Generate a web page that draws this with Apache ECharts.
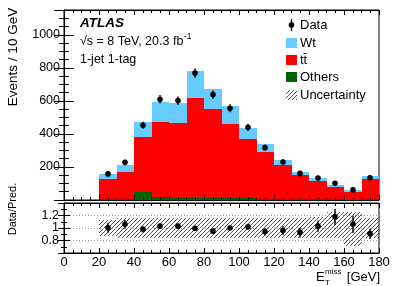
<!DOCTYPE html>
<html><head><meta charset="utf-8">
<script src="https://cdn.jsdelivr.net/npm/echarts@6/dist/echarts.min.js"></script>
<style>html,body{margin:0;padding:0;background:#fff}#c{width:399px;height:286px}</style>
</head><body><div id="c"></div>
<script>
// ---- data ----
const binLo = [20,30,40,50,60,70,80,90,100,110,120,130,140,150,160,170];
const binWidth = 10;
const others = [4,6,46,16,15,14,13,12,10,8,7,6,5,4,3,4];
const ttbar  = [121,164,334,457,454,606,536,449,357,285,203,144,108,75,47,125];
const wt     = [35,44,93,119,119,158,123,105,67,46,32,22,18,10,9,18];
const dataVals = [158,228,452,610,602,768,638,555,440,317,230,161,133,101,61,135];
const dataErr  = [13,15,21,25,25,28,25,24,21,18,15,13,12,10,8,12];
const ratioVals = [1.005,1.06,0.98,1.03,1.03,0.995,0.95,1.0,1.02,0.94,0.96,0.93,1.03,1.18,1.06,0.91];
const ratioErr  = [0.08,0.07,0.05,0.04,0.04,0.04,0.04,0.04,0.05,0.06,0.07,0.08,0.09,0.13,0.14,0.08];
const uncUp   = [1.13,1.16,1.16,1.16,1.16,1.16,1.16,1.16,1.16,1.16,1.16,1.16,1.17,1.25,1.25,1.16];
const uncDown = [0.88,0.84,0.84,0.84,0.84,0.84,0.84,0.84,0.84,0.84,0.84,0.84,0.84,0.84,0.72,0.84];
const mainYTickLabels = [200,400,600,800,1000];
const ratioYTickLabels = [0.8,1,1.2];

const FONT = 'Liberation Sans, Arial, sans-serif';

function textWidth(t, font){
  const c = document.createElement('canvas').getContext('2d');
  c.font = font; return c.measureText(t).width;
}

function hatchCanvas(){
  const c = document.createElement('canvas'); c.width = 4; c.height = 4;
  const g = c.getContext('2d');
  g.strokeStyle = '#222'; g.lineWidth = 0.8;
  g.beginPath();
  g.moveTo(0,4); g.lineTo(4,0);
  g.moveTo(-1,1); g.lineTo(1,-1);
  g.moveTo(3,5); g.lineTo(5,3);
  g.stroke();
  return c;
}
const hatch = {image: hatchCanvas(), repeat: 'repeat'};

function rectRender(color){
  return function(params, api){
    const p0 = api.coord([api.value(0), api.value(3)]);
    const p1 = api.coord([api.value(1), api.value(2)]);
    const x0 = Math.round(p0[0]), x1 = Math.round(p1[0]);
    const y0 = Math.round(p0[1]), y1 = Math.round(p1[1]);
    return {type:'rect', shape:{x:x0, y:y0, width:x1-x0, height:y1-y0}, style:{fill:color}};
  };
}
function stackSeries(name, base, vals, color, xi, yi){
  return {
    type:'custom', name, xAxisIndex:xi, yAxisIndex:yi, silent:true, z:2,
    data: binLo.map((lo,i)=>[lo, lo+binWidth, base[i], base[i]+vals[i]]),
    encode:{x:[0,1], y:[2,3]},
    renderItem: rectRender(color)
  };
}
function pointSeries(name, vals, errs, xi, yi){
  return {
    type:'custom', name, xAxisIndex:xi, yAxisIndex:yi, silent:true, z:6,
    data: binLo.map((lo,i)=>[lo+binWidth/2, vals[i], errs[i]]),
    encode:{x:0, y:1},
    renderItem(params, api){
      const x = api.value(0), y = api.value(1), e = api.value(2);
      const c = api.coord([x,y]), t = api.coord([x,y+e]), b = api.coord([x,y-e]);
      const cx = Math.round(c[0]);
      return {type:'group', children:[
        {type:'line', shape:{x1:cx, y1:t[1], x2:cx, y2:b[1]}, style:{stroke:'#000', lineWidth:1.4}},
        {type:'circle', shape:{cx:cx, cy:c[1], r:2.8}, style:{fill:'#000'}}
      ]};
    }
  };
}

const base0 = others.map(()=>0);
const baseTT = others.slice();
const baseWt = others.map((o,i)=>o+ttbar[i]);

function xAx(grid, pos, labels){
  return {
    type:'value', gridIndex:grid, position:pos, min:0, max:180, interval:20, z:5,
    axisLine:{show:true, onZero:false, lineStyle:{color:'#000', width:1}},
    axisTick:{show:true, inside:true, length:5, lineStyle:{color:'#000'}},
    minorTick:{show:true, splitNumber:4, length:3, lineStyle:{color:'#000'}},
    splitLine:{show:false},
    axisLabel:{show:labels, color:'#000', fontFamily:FONT, fontSize:13, margin:3}
  };
}

const lumiFont = '12.5px ' + FONT;
const lumiText = '√s = 8 TeV, 20.3 fb';
const lumiW = textWidth(lumiText, lumiFont);

const option = {
  animation:false,
  backgroundColor:'#fff',
  grid:[
    {left:64, top:10, width:315, height:190, show:true, borderColor:'#000', borderWidth:1, backgroundColor:'transparent'},
    {left:64, top:203, width:315, height:50, show:true, borderColor:'#000', borderWidth:1, backgroundColor:'transparent'}
  ],
  xAxis:[ xAx(0,'bottom',false), xAx(0,'top',false), xAx(1,'bottom',true), xAx(1,'top',false) ],
  yAxis:[
    {type:'value', gridIndex:0, position:'left', min:0, max:1150, interval:200, z:5,
     axisLine:{show:true, lineStyle:{color:'#000'}},
     axisTick:{show:true, inside:true, length:10, lineStyle:{color:'#000'}},
     minorTick:{show:true, splitNumber:4, length:5, lineStyle:{color:'#000'}},
     splitLine:{show:false},
     axisLabel:{color:'#000', fontFamily:FONT, fontSize:12.5, margin:4,
       formatter:v=> mainYTickLabels.indexOf(v)>=0 ? String(v) : ''}},
    {type:'value', gridIndex:0, position:'right', min:0, max:1150, interval:200, z:5,
     axisLine:{show:true, lineStyle:{color:'#000'}},
     axisTick:{show:true, inside:true, length:10, lineStyle:{color:'#000'}},
     minorTick:{show:true, splitNumber:4, length:5, lineStyle:{color:'#000'}},
     splitLine:{show:false}, axisLabel:{show:false}},
    {type:'value', gridIndex:1, position:'left', min:0.6, max:1.4, interval:0.2, z:5,
     axisLine:{show:true, lineStyle:{color:'#000'}},
     axisTick:{show:true, inside:true, length:6, lineStyle:{color:'#000'}},
     minorTick:{show:true, splitNumber:2, length:3, lineStyle:{color:'#000'}},
     splitLine:{show:true, lineStyle:{color:'#999', type:[1,2], width:1}},
     axisLabel:{color:'#000', fontFamily:FONT, fontSize:12.5, margin:5,
       formatter:v=>{const r=Math.round(v*10)/10; return ratioYTickLabels.indexOf(r)>=0 ? String(r) : '';}}},
    {type:'value', gridIndex:1, position:'right', min:0.6, max:1.4, interval:0.2, z:5,
     axisLine:{show:true, lineStyle:{color:'#000'}},
     axisTick:{show:true, inside:true, length:6, lineStyle:{color:'#000'}},
     minorTick:{show:true, splitNumber:2, length:3, lineStyle:{color:'#000'}},
     splitLine:{show:false}, axisLabel:{show:false}}
  ],
  series:[
    stackSeries('Others', base0, others, '#006400', 0, 0),
    stackSeries('tt̄', baseTT, ttbar, '#ff0000', 0, 0),
    stackSeries('Wt', baseWt, wt, '#66ccff', 0, 0),
    pointSeries('Data', dataVals, dataErr, 0, 0),
    {
      type:'custom', name:'Uncertainty', xAxisIndex:2, yAxisIndex:2, silent:true, z:3,
      data: binLo.map((lo,i)=>[lo, lo+binWidth, uncDown[i], uncUp[i]]),
      encode:{x:[0,1], y:[2,3]},
      renderItem: rectRender(hatch)
    },
    pointSeries('Data/Pred.', ratioVals, ratioErr, 2, 2)
  ],
  graphic:[
    {type:'text', x:80, y:23, style:{text:'ATLAS', font:'italic bold 13.5px '+FONT, fill:'#000', textVerticalAlign:'middle'}},
    {type:'text', x:80, y:42, style:{text:lumiText, font:lumiFont, fill:'#000', textVerticalAlign:'middle'}},
    {type:'text', x:80+lumiW+0.5, y:37, style:{text:'-1', font:'8.5px '+FONT, fill:'#000', textVerticalAlign:'middle'}},
    {type:'text', x:80, y:60, style:{text:'1-jet 1-tag', font:'12.5px '+FONT, fill:'#000', textVerticalAlign:'middle'}},
    // legend
    {type:'line', shape:{x1:291.5, y1:19, x2:291.5, y2:31}, style:{stroke:'#000', lineWidth:1.4}},
    {type:'circle', shape:{cx:291.5, cy:25, r:2.8}, style:{fill:'#000'}},
    {type:'text', x:300, y:25, style:{text:'Data', font:'13px '+FONT, fill:'#000', textVerticalAlign:'middle'}},
    {type:'rect', shape:{x:286, y:38, width:11, height:10}, style:{fill:'#66ccff'}},
    {type:'text', x:300, y:43, style:{text:'Wt', font:'13px '+FONT, fill:'#000', textVerticalAlign:'middle'}},
    {type:'rect', shape:{x:286, y:55, width:11, height:10}, style:{fill:'#ff0000'}},
    {type:'text', x:300, y:60, style:{text:'tt\u0304', font:'13px '+FONT, fill:'#000', textVerticalAlign:'middle'}},
    {type:'rect', shape:{x:286, y:72, width:11, height:10}, style:{fill:'#006400'}},
    {type:'text', x:300, y:77, style:{text:'Others', font:'13px '+FONT, fill:'#000', textVerticalAlign:'middle'}},
    {type:'rect', shape:{x:286, y:90, width:11, height:10}, style:{fill:hatch}},
    {type:'text', x:300, y:95, style:{text:'Uncertainty', font:'13px '+FONT, fill:'#000', textVerticalAlign:'middle'}},
    // axis titles
    {type:'text', x:13, y:57, rotation:Math.PI/2, style:{text:'Events / 10 GeV', font:'13.5px '+FONT, fill:'#000', textAlign:'center', textVerticalAlign:'middle'}},
    {type:'text', x:13, y:209, rotation:Math.PI/2, style:{text:'Data/Pred.', font:'11px '+FONT, fill:'#000', textAlign:'center', textVerticalAlign:'middle'}},
    {type:'text', x:316, y:277, style:{text:'E', font:'13px '+FONT, fill:'#000', textVerticalAlign:'middle'}},
    {type:'text', x:325, y:272, style:{text:'miss', font:'8px '+FONT, fill:'#000', textVerticalAlign:'middle'}},
    {type:'text', x:325, y:283, style:{text:'T', font:'8px '+FONT, fill:'#000', textVerticalAlign:'middle'}},
    {type:'text', x:380, y:277, style:{text:'[GeV]', font:'13px '+FONT, fill:'#000', textAlign:'right', textVerticalAlign:'middle'}}
  ]
};
const chart = echarts.init(document.getElementById('c'), null, {renderer:'canvas'});
chart.setOption(option);
</script>
</body></html>
